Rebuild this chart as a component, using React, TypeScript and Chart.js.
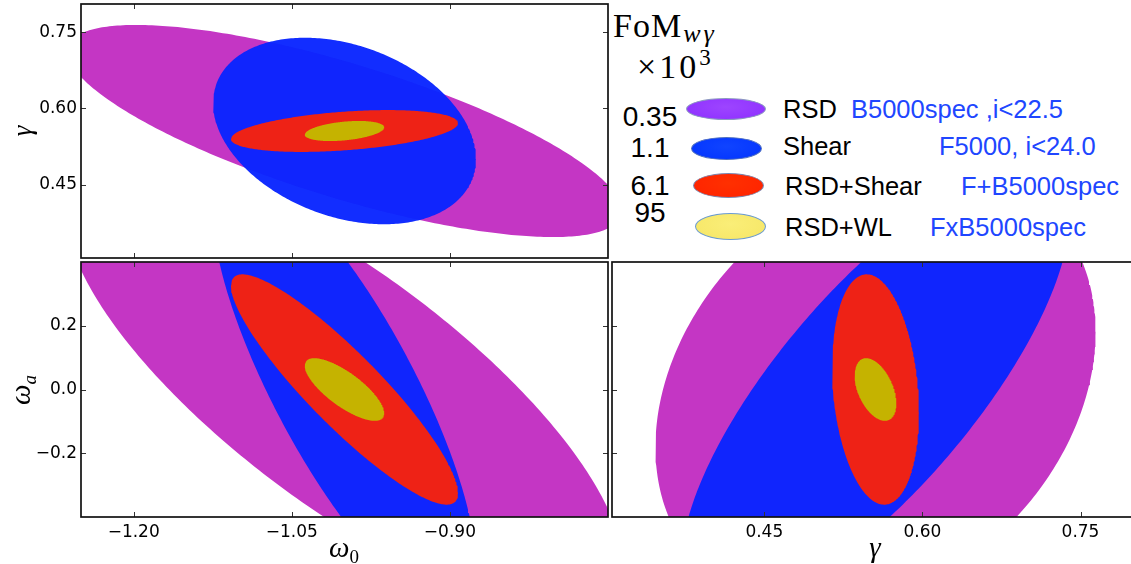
import React, { useEffect, useRef } from 'react';
import { Chart, registerables } from 'chart.js';

Chart.register(...registerables);

// ---------------- data ----------------
const probes = ['RSD', 'Shear', 'RSD+Shear', 'RSD+WL'];
const fomValues = ['0.35', '1.1', '6.1', '95'];
const surveys = ['B5000spec ,i<22.5', 'F5000, i<24.0', 'F+B5000spec', 'FxB5000spec'];

// fiducial cosmology (ellipse centres)
const fiducialW0 = -1.0;
const fiducialWa = 0.0;
const fiducialGamma = 0.5555;

// contour half-extents per parameter, per probe (RSD, Shear, RSD+Shear, RSD+WL)
const halfW0 = [0.263, 0.1247, 0.1077, 0.0377];
const halfWa = [0.696, 0.69, 0.3613, 0.0983];
const halfGamma = [0.2088, 0.1836, 0.0412, 0.0198];
// correlation coefficients per probe
const corrW0Gamma = [-0.751, -0.3, 0.38, 0.36];
const corrW0Wa = [-0.774, -0.8, -0.9, -0.76];
const corrGammaWa = [0.26, 0.77, -0.2, -0.45];

// axis ranges and ticks
const w0Range = [-1.25, -0.75];
const waRange = [-0.4, 0.4];
const gammaRange = [0.3055, 0.8055];
const w0Ticks = [-1.2, -1.05, -0.9];
const waTicks = [-0.2, 0.0, 0.2];
const gammaTicks = [0.45, 0.6, 0.75];

// ---------------- styles ----------------
const fillColors = ['rgb(196,54,196)', 'rgba(8,36,255,0.96)', 'rgb(238,34,22)', 'rgb(197,179,0)'];
const swatchFills = [
  'radial-gradient(ellipse at 50% 40%, #9d45ff 0%, #9235ff 70%, #7f2be0 100%)',
  'radial-gradient(ellipse at 50% 40%, #1044ff 0%, #0638ff 70%, #0530d8 100%)',
  'radial-gradient(ellipse at 50% 40%, #ff3000 0%, #ff2600 70%, #d01c00 100%)',
  'radial-gradient(ellipse at 50% 40%, #faee78 0%, #f7e86a 75%, #eedc5a 100%)',
];
const swatchBorders = ['#8c9ac0', '#5070c0', '#7a86b0', '#6b9bd0'];
const TICK_FONT = { family: 'DejaVu Sans', size: 17 };
const LEGEND_FONT = '"Liberation Sans", Arial, sans-serif';
const MATH_FONT = '"Liberation Serif", "DejaVu Serif", serif';
const SURVEY_BLUE = '#2046ff';

function fmtTick(v: number, digits: number) {
  const s = Math.abs(v).toFixed(digits);
  return (v < -1e-9 ? '\u2212' : '') + s;
}

// 1-sigma ellipse outline from half-extents and correlation
function ellipsePoints(cx: number, cy: number, ex: number, ey: number, rho: number) {
  const n = 360;
  const s = Math.sqrt(1 - rho * rho);
  const pts: { x: number; y: number }[] = [];
  for (let i = 0; i < n; i++) {
    const t = (2 * Math.PI * i) / n;
    pts.push({ x: cx + ex * Math.cos(t), y: cy + ey * (rho * Math.cos(t) + s * Math.sin(t)) });
  }
  return pts;
}

const framePlugin = {
  id: 'frame',
  afterDatasetsDraw(chart: any, _args: any, opts: any) {
    const { ctx, chartArea: a, scales } = chart;
    ctx.save();
    ctx.strokeStyle = '#333';
    ctx.lineWidth = 1;
    const seg = (x1: number, y1: number, x2: number, y2: number) => {
      ctx.beginPath();
      ctx.moveTo(x1, y1);
      ctx.lineTo(x2, y2);
      ctx.stroke();
    };
    for (const v of opts.xTicks) {
      const px = Math.round(scales.x.getPixelForValue(v)) + 0.5;
      seg(px, a.top, px, a.top + 5);
      seg(px, a.bottom, px, a.bottom - 5);
    }
    for (const v of opts.yTicks) {
      const py = Math.round(scales.y.getPixelForValue(v)) + 0.5;
      seg(a.left, py, a.left + 5, py);
      seg(a.right, py, a.right - 5, py);
    }
    ctx.lineWidth = 1.7;
    ctx.strokeStyle = '#111';
    ctx.strokeRect(a.left, a.top, a.right - a.left, a.bottom - a.top);
    ctx.restore();
  },
};

type PanelDef = {
  left: number;
  top: number;
  width: number;
  height: number;
  padding: { top: number; right: number; bottom: number; left: number };
  xRange: number[];
  yRange: number[];
  xTicks: number[];
  yTicks: number[];
  xDigits: number;
  yDigits: number;
  showXLabels: boolean;
  showYLabels: boolean;
  xHalf: number[];
  yHalf: number[];
  corr: number[];
  cx: number;
  cy: number;
};

const panels: PanelDef[] = [
  {
    left: 0, top: 0, width: 612, height: 262,
    padding: { top: 4, right: 4, bottom: 4, left: 0 },
    xRange: w0Range, yRange: gammaRange, xTicks: w0Ticks, yTicks: gammaTicks,
    xDigits: 2, yDigits: 2, showXLabels: false, showYLabels: true,
    xHalf: halfW0, yHalf: halfGamma, corr: corrW0Gamma, cx: fiducialW0, cy: fiducialGamma,
  },
  {
    left: 0, top: 258, width: 612, height: 306,
    padding: { top: 4, right: 4, bottom: 0, left: 0 },
    xRange: w0Range, yRange: waRange, xTicks: w0Ticks, yTicks: waTicks,
    xDigits: 2, yDigits: 1, showXLabels: true, showYLabels: true,
    xHalf: halfW0, yHalf: halfWa, corr: corrW0Wa, cx: fiducialW0, cy: fiducialWa,
  },
  {
    left: 608, top: 258, width: 535, height: 306,
    padding: { top: 4, right: 4, bottom: 0, left: 4 },
    xRange: gammaRange, yRange: waRange, xTicks: gammaTicks, yTicks: waTicks,
    xDigits: 2, yDigits: 1, showXLabels: true, showYLabels: false,
    xHalf: halfGamma, yHalf: halfWa, corr: corrGammaWa, cx: fiducialGamma, cy: fiducialWa,
  },
];

const zeroPad = (s: any) => {
  s.paddingTop = 0;
  s.paddingBottom = 0;
  s.paddingLeft = 0;
  s.paddingRight = 0;
};

function Panel({ def }: { def: PanelDef }) {
  const ref = useRef<HTMLCanvasElement | null>(null);
  useEffect(() => {
    if (!ref.current) return;
    const datasets = probes.map((p, i) => ({
      label: p,
      data: ellipsePoints(def.cx, def.cy, def.xHalf[i], def.yHalf[i], def.corr[i]),
      showLine: true,
      fill: 'shape',
      backgroundColor: fillColors[i],
      borderWidth: 0,
      pointRadius: 0,
      pointHoverRadius: 0,
      tension: 0,
      order: probes.length - 1 - i,
    }));
    const chart = new Chart(ref.current, {
      type: 'scatter',
      data: { datasets: datasets as any },
      plugins: [framePlugin],
      options: {
        animation: false,
        responsive: false,
        events: [],
        layout: { padding: def.padding },
        plugins: {
          legend: { display: false },
          tooltip: { enabled: false },
          frame: { xTicks: def.xTicks, yTicks: def.yTicks },
        } as any,
        scales: {
          x: {
            type: 'linear',
            min: def.xRange[0],
            max: def.xRange[1],
            display: def.showXLabels,
            grid: { display: false, drawTicks: false },
            border: { display: false },
            afterBuildTicks: (s: any) => {
              s.ticks = def.xTicks.map((v) => ({ value: v }));
            },
            afterFit: (s: any) => {
              s.height = def.showXLabels ? 47 : 0;
              zeroPad(s);
            },
            ticks: {
              padding: 5,
              color: '#000',
              font: TICK_FONT,
              maxRotation: 0,
              autoSkip: false,
              callback: (v: any) => fmtTick(Number(v), def.xDigits),
            },
          },
          y: {
            type: 'linear',
            min: def.yRange[0],
            max: def.yRange[1],
            display: def.showYLabels,
            grid: { display: false, drawTicks: false },
            border: { display: false },
            afterBuildTicks: (s: any) => {
              s.ticks = def.yTicks.map((v) => ({ value: v }));
            },
            afterFit: (s: any) => {
              s.width = def.showYLabels ? 81 : 0;
              zeroPad(s);
            },
            ticks: {
              padding: 4,
              color: '#000',
              font: TICK_FONT,
              autoSkip: false,
              callback: (v: any) => fmtTick(Number(v), def.yDigits),
            },
          },
        },
      } as any,
    });
    return () => chart.destroy();
  }, [def]);
  return (
    <canvas
      ref={ref}
      width={def.width}
      height={def.height}
      style={{ position: 'absolute', left: def.left, top: def.top, width: def.width, height: def.height }}
    />
  );
}

const abs = (extra: React.CSSProperties): React.CSSProperties => ({
  position: 'absolute',
  whiteSpace: 'nowrap',
  lineHeight: 1,
  margin: 0,
  ...extra,
});

// legend row layout
const rowNumTop = [103, 134, 172, 199];
const rowLabelTop = [97, 134, 174, 215];
const labelLeft = [783, 783, 785, 785];
const surveyLeft = [851, 939, 961, 930];
const swatchBox = [
  [686, 98, 80, 22],
  [691, 137, 71, 23],
  [693, 173, 71, 25],
  [695, 213, 71, 27],
];

export default function App() {
  return (
    <div
      style={{
        position: 'fixed',
        left: 0,
        top: 0,
        width: 1131,
        height: 564,
        overflow: 'hidden',
        background: '#fff',
      }}
    >
      {panels.map((p, i) => (
        <Panel key={i} def={p} />
      ))}

      {/* axis titles */}
      <div style={abs({ left: 22, top: 131, transform: 'translate(-50%,-50%) rotate(-90deg)', fontFamily: MATH_FONT, fontStyle: 'italic', fontSize: 27 })}>γ</div>
      <div style={abs({ left: 20, top: 390, transform: 'translate(-50%,-50%) rotate(-90deg)', fontFamily: MATH_FONT, fontStyle: 'italic', fontSize: 29 })}>
        ω<span style={{ fontSize: 19, position: 'relative', top: 6 }}>a</span>
      </div>
      <div style={abs({ left: 344, top: 547, transform: 'translate(-50%,-50%)', fontFamily: MATH_FONT, fontStyle: 'italic', fontSize: 29 })}>
        ω<span style={{ fontSize: 19, fontStyle: 'normal', position: 'relative', top: 6 }}>0</span>
      </div>
      <div style={abs({ left: 875, top: 547, transform: 'translate(-50%,-50%)', fontFamily: MATH_FONT, fontStyle: 'italic', fontSize: 29 })}>γ</div>

      {/* legend header */}
      <div style={abs({ left: 613, top: 9, fontFamily: MATH_FONT, fontSize: 34, letterSpacing: 1 })}>
        FoM
        <span style={{ fontStyle: 'italic', fontSize: 26, position: 'relative', top: 5, marginLeft: 1, letterSpacing: 3 }}>wγ</span>
      </div>
      <div style={abs({ left: 637, top: 50, fontFamily: MATH_FONT, fontSize: 34, letterSpacing: 3 })}>
        ×10<span style={{ fontSize: 23, position: 'relative', top: -13 }}>3</span>
      </div>

      {/* legend rows */}
      {probes.map((p, i) => (
        <React.Fragment key={p}>
          <div style={abs({ left: 612, width: 76, top: rowNumTop[i], textAlign: 'center', fontFamily: LEGEND_FONT, fontSize: 28, color: '#000' })}>
            {fomValues[i]}
          </div>
          <div
            style={{
              position: 'absolute',
              left: swatchBox[i][0],
              top: swatchBox[i][1],
              width: swatchBox[i][2],
              height: swatchBox[i][3],
              borderRadius: '50%',
              background: swatchFills[i],
              border: `1px solid ${swatchBorders[i]}`,
              boxSizing: 'border-box',
            }}
          />
          <div style={abs({ left: labelLeft[i], top: rowLabelTop[i], fontFamily: LEGEND_FONT, fontSize: 25.5, color: '#000' })}>{p}</div>
          <div style={abs({ left: surveyLeft[i], top: rowLabelTop[i], fontFamily: LEGEND_FONT, fontSize: 25.5, color: SURVEY_BLUE })}>
            {surveys[i]}
          </div>
        </React.Fragment>
      ))}
    </div>
  );
}
